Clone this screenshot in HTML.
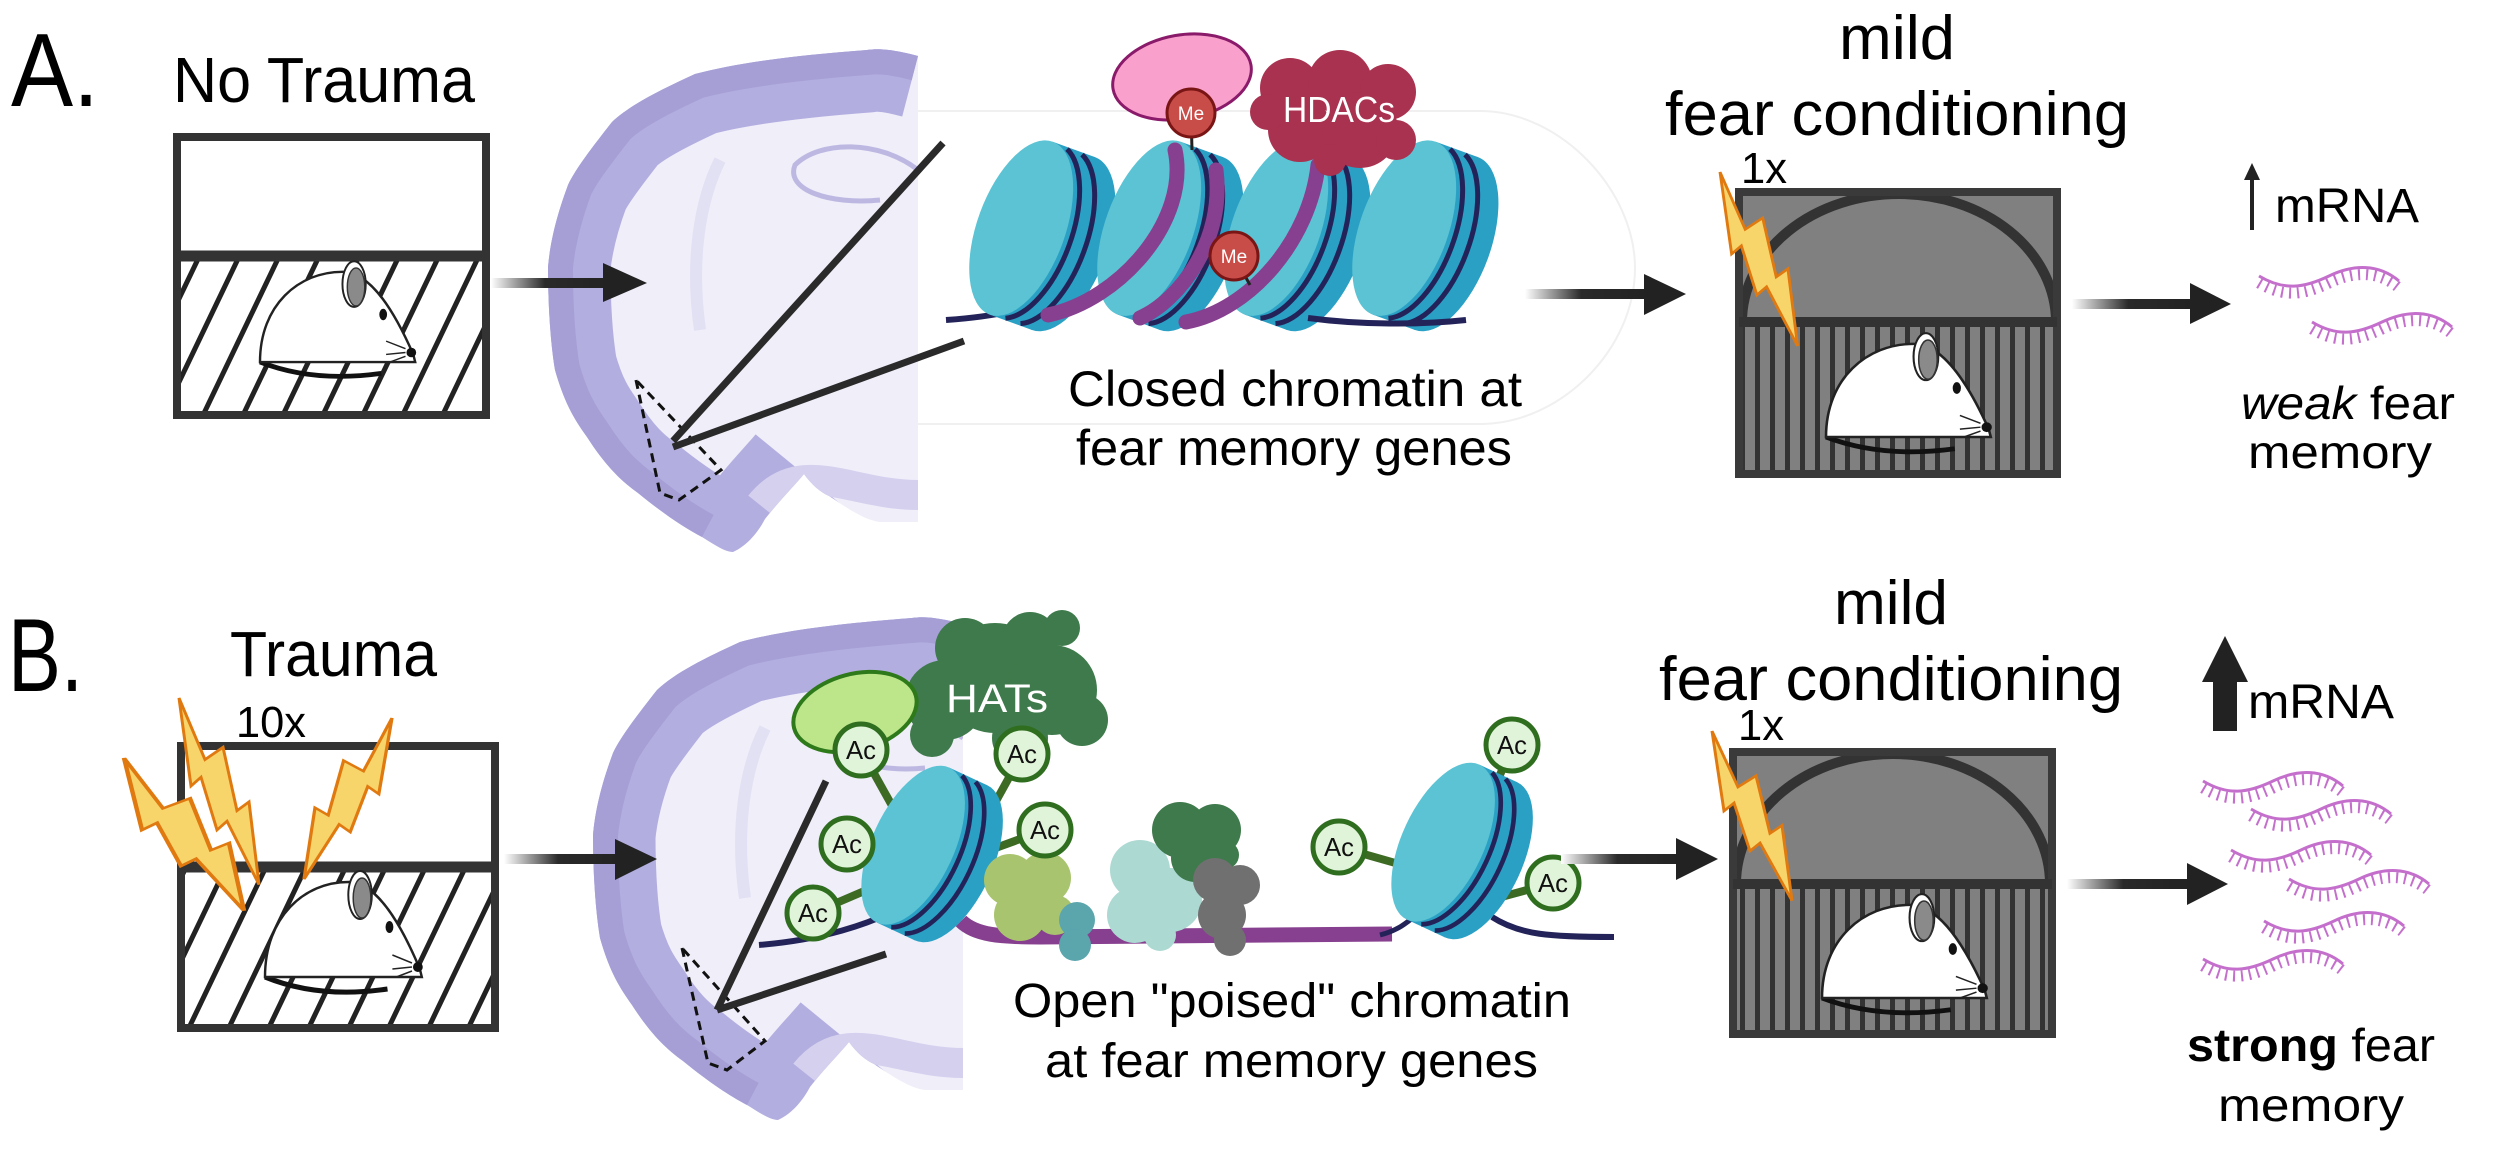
<!DOCTYPE html>
<html><head><meta charset="utf-8"><style>
html,body{margin:0;padding:0;background:#fff;}
svg{display:block;}
text{font-family:"Liberation Sans",sans-serif;fill:#000;}
</style></head><body>
<svg width="2500" height="1149" viewBox="0 0 2500 1149" xmlns="http://www.w3.org/2000/svg">
<defs>
 <pattern id="hatch" patternUnits="userSpaceOnUse" width="36" height="36" patternTransform="rotate(25.6)">
  <rect width="36" height="36" fill="#fff"/><rect x="0" y="0" width="5" height="36" fill="#222"/>
 </pattern>
 <pattern id="bars" patternUnits="userSpaceOnUse" width="15" height="20">
  <rect width="15" height="20" fill="#808080"/><rect x="0" y="0" width="5" height="20" fill="#333"/>
 </pattern>
 <linearGradient id="shaft" x1="0" x2="1" y1="0" y2="0">
  <stop offset="0" stop-color="#fff"/><stop offset="0.45" stop-color="#2a2a2a"/><stop offset="1" stop-color="#222"/>
 </linearGradient>
 <clipPath id="brainclip"><path d="M918,56 C895,50 880,48 867,50 C800,55 740,62 695,74 C660,90 630,105 612,122 C590,150 575,170 568,185 C555,220 550,245 548,267 C548,300 550,340 555,370 C565,405 575,420 587,437 C605,465 620,480 638,493 C665,515 685,528 702,537 C715,545 725,552 733,552 C748,545 758,532 765,519 C780,500 795,485 804,474 C812,485 820,492 829,496 C850,510 865,520 880,522 L918,522 Z"/></clipPath>
 <g id="brain">
  <path d="M918,56 C895,50 880,48 867,50 C800,55 740,62 695,74 C660,90 630,105 612,122 C590,150 575,170 568,185 C555,220 550,245 548,267 C548,300 550,340 555,370 C565,405 575,420 587,437 C605,465 620,480 638,493 C665,515 685,528 702,537 C715,545 725,552 733,552 C748,545 758,532 765,519 C780,500 795,485 804,474 C812,485 820,492 829,496 C850,510 865,520 880,522 L918,522 Z" fill="#efeef9"/>
  <g clip-path="url(#brainclip)">
   <path d="M918,56 C895,50 880,48 867,50 C800,55 740,62 695,74 C660,90 630,105 612,122 C590,150 575,170 568,185 C555,220 550,245 548,267 C548,300 550,340 555,370 C565,405 575,420 587,437 C605,465 620,480 638,493 C665,515 685,528 702,537 C715,545 725,552 733,552 C748,545 758,532 765,519 C780,500 795,485 804,474" fill="none" stroke="#b3aee0" stroke-width="125"/>
   <path d="M918,56 C895,50 880,48 867,50 C800,55 740,62 695,74 C660,90 630,105 612,122 C590,150 575,170 568,185 C555,220 550,245 548,267 C548,300 550,340 555,370 C565,405 575,420 587,437 C605,465 620,480 638,493 C665,515 685,528 702,537" fill="none" stroke="#a59fd6" stroke-width="50"/>
   <path d="M760,505 C800,455 850,495 918,495" fill="none" stroke="#d4d0ee" stroke-width="30"/>
   <path d="M918,170 C880,140 820,140 795,165 C785,190 830,205 880,200" fill="none" stroke="#bdb8e2" stroke-width="5"/>
   <path d="M720,160 C700,200 690,260 700,330" fill="none" stroke="#e2e0f3" stroke-width="12"/>
  </g>
 </g>
 <g id="nuc">
  <ellipse cx="25" cy="0" rx="44" ry="92" fill="#2aa0c5"/>
  <rect x="-20" y="-92" width="45" height="184" fill="#2aa0c5"/>
  <ellipse cx="-20" cy="0" rx="44" ry="92" fill="#5bc3d3"/>
  <path d="M-4,-90 A44 92 0 0 1 -4,90" fill="none" stroke="#23235a" stroke-width="5"/>
  <path d="M12,-90 A44 92 0 0 1 12,90" fill="none" stroke="#23235a" stroke-width="5"/>
 </g>
 <polygon id="bolt" points="0,0 26,70 44,56 58,128 70,118 80,212 48,140 38,150 22,90 12,100" fill="#f8d56b" stroke="#e07a10" stroke-width="3" stroke-linejoin="miter"/>
 <g id="mouse">
  <path d="M0,100 Q55,122 125,112" fill="none" stroke="#111" stroke-width="5"/>
  <path d="M0,100 C0,40 40,5 85,5 C115,5 140,50 158,92 L160,100 Z" fill="#fff" stroke="#222" stroke-width="2.5"/>
  <ellipse cx="97" cy="18" rx="12" ry="24" fill="#fff" stroke="#222" stroke-width="2"/>
  <ellipse cx="99" cy="21" rx="9" ry="20" fill="#8a8a8a" stroke="#333" stroke-width="1.5"/>
  <ellipse cx="127" cy="50" rx="4" ry="6" fill="#111"/>
  <circle cx="156" cy="90" r="5" fill="#111"/>
  <path d="M150,86 L130,78 M150,90 L130,92 M150,94 L134,100" stroke="#222" stroke-width="1.5"/>
 </g>
 <g id="rna">
  <path d="M0,0 C25,15 45,12 70,0 C95,-12 120,-12 140,5" fill="none" stroke="#c46fcc" stroke-width="3"/>
  <path d="M0,0 C25,15 45,12 70,0 C95,-12 120,-12 140,5" transform="translate(0,7)" fill="none" stroke="#c46fcc" stroke-width="11" stroke-dasharray="2 6"/>
 </g>
 <g id="ac">
  <circle r="26" fill="#e0f4d9" stroke="#2f6d1f" stroke-width="5"/>
  <text x="0" y="9" font-size="26" text-anchor="middle" textLength="30" lengthAdjust="spacingAndGlyphs" style="fill:#111">Ac</text>
 </g>
</defs>

<!-- ===== Row A ===== -->
<text x="11" y="106" font-size="104" textLength="88" lengthAdjust="spacingAndGlyphs">A.</text>
<text x="173" y="102" font-size="64" textLength="302" lengthAdjust="spacingAndGlyphs">No Trauma</text>
<rect x="177" y="256" width="309" height="159" fill="url(#hatch)"/>
<rect x="177" y="137" width="309" height="278" fill="none" stroke="#333" stroke-width="8"/>
<line x1="177" y1="256" x2="486" y2="256" stroke="#333" stroke-width="11"/>
<use href="#mouse" transform="translate(260,267) scale(0.97,0.95)"/>

<use href="#brain"/>
<!-- arrow A1 -->
<rect x="491" y="278" width="120" height="10" fill="url(#shaft)"/>
<polygon points="603,263 647,283 603,302" fill="#222"/>
<polyline points="636,380 660,493 679,500 721,470 636,380" fill="none" stroke="#111" stroke-width="3" stroke-dasharray="9 6"/>
<line x1="673" y1="441" x2="943" y2="143" stroke="#2a2a2a" stroke-width="7"/>
<line x1="673" y1="447" x2="964" y2="341" stroke="#2a2a2a" stroke-width="7"/>

<!-- chromatin A -->
<path d="M918,111 L1480,111 C1560,111 1635,190 1635,268 C1635,350 1560,424 1480,424 L918,424" fill="none" stroke="#f0f0f0" stroke-width="2"/>
<path d="M946,320 C975,318 995,315 1012,311" fill="none" stroke="#23235a" stroke-width="6"/>
<use href="#nuc" transform="translate(1040,235) rotate(20)"/>
<use href="#nuc" transform="translate(1168,235) rotate(20)"/>
<use href="#nuc" transform="translate(1295,235) rotate(20)"/>
<use href="#nuc" transform="translate(1423,235) rotate(20)"/>
<path d="M1308,318 C1360,325 1420,325 1466,320" fill="none" stroke="#23235a" stroke-width="6"/>
<path d="M1175,150 C1190,220 1120,300 1048,315" fill="none" stroke="#87408f" stroke-width="15" stroke-linecap="round"/>
<path d="M1216,170 C1225,240 1180,300 1140,318" fill="none" stroke="#87408f" stroke-width="15" stroke-linecap="round"/>
<path d="M1318,165 C1310,240 1250,310 1186,322" fill="none" stroke="#87408f" stroke-width="15" stroke-linecap="round"/>
<line x1="1191" y1="113" x2="1192" y2="150" stroke="#222" stroke-width="3"/>
<ellipse cx="1182" cy="77" rx="70" ry="42" transform="rotate(-10 1182 77)" fill="#f9a0cc" stroke="#8a1a6a" stroke-width="3"/>
<circle cx="1191" cy="113" r="24" fill="#c84c48" stroke="#7a1515" stroke-width="3"/>
<text x="1191" y="120" font-size="19" text-anchor="middle" style="fill:#fff">Me</text>
<g fill="#a8324f">
 <circle cx="1290" cy="88" r="30"/><circle cx="1340" cy="82" r="32"/><circle cx="1388" cy="92" r="28"/>
 <circle cx="1300" cy="130" r="32"/><circle cx="1360" cy="130" r="38"/><circle cx="1396" cy="140" r="20"/>
 <circle cx="1330" cy="160" r="16"/><circle cx="1268" cy="112" r="18"/>
</g>
<text x="1283" y="122" font-size="36" textLength="112" lengthAdjust="spacingAndGlyphs" style="fill:#fff">HDACs</text>
<line x1="1234" y1="256" x2="1250" y2="285" stroke="#222" stroke-width="3"/>
<circle cx="1234" cy="256" r="24" fill="#c84c48" stroke="#7a1515" stroke-width="3"/>
<text x="1234" y="263" font-size="19" text-anchor="middle" style="fill:#fff">Me</text>
<text x="1068" y="406" font-size="50" textLength="454" lengthAdjust="spacingAndGlyphs">Closed chromatin at</text>
<text x="1076" y="465" font-size="50" textLength="436" lengthAdjust="spacingAndGlyphs">fear memory genes</text>
<!-- arrow A2 -->
<rect x="1525" y="289" width="125" height="10" fill="url(#shaft)"/>
<polygon points="1644,274 1686,294 1644,315" fill="#222"/>

<text x="1839" y="59" font-size="62" textLength="116" lengthAdjust="spacingAndGlyphs">mild</text>
<text x="1665" y="135" font-size="62" textLength="464" lengthAdjust="spacingAndGlyphs">fear conditioning</text>
<text x="1741" y="183" font-size="44" textLength="46" lengthAdjust="spacingAndGlyphs">1x</text>
<rect x="1739" y="322" width="318" height="152" fill="url(#bars)"/>
<rect x="1739" y="192" width="318" height="130" fill="#808080"/>
<path d="M1742,322 A157 128 0 0 1 2056,322" fill="none" stroke="#333" stroke-width="10"/>
<rect x="1739" y="192" width="318" height="282" fill="none" stroke="#3a3a3a" stroke-width="8"/>
<line x1="1739" y1="322" x2="2057" y2="322" stroke="#333" stroke-width="10"/>
<use href="#mouse" transform="translate(1826,339) scale(1.03,0.98)"/>
<use href="#bolt" transform="translate(1720,172) scale(0.97,0.82)"/>
<!-- arrow A3 -->
<rect x="2072" y="299" width="125" height="10" fill="url(#shaft)"/>
<polygon points="2190,283 2231,304 2190,324" fill="#222"/>
<line x1="2252" y1="175" x2="2252" y2="230" stroke="#222" stroke-width="4"/>
<polygon points="2244,180 2260,180 2252,163" fill="#222"/>
<text x="2275" y="222" font-size="48" textLength="144" lengthAdjust="spacingAndGlyphs">mRNA</text>
<use href="#rna" transform="translate(2259,276)"/>
<use href="#rna" transform="translate(2312,322)"/>
<text x="2241" y="419" font-size="46" textLength="214" lengthAdjust="spacingAndGlyphs"><tspan font-style="italic">weak</tspan> fear</text>
<text x="2248" y="468" font-size="46" textLength="184" lengthAdjust="spacingAndGlyphs">memory</text>

<!-- ===== Row B ===== -->
<text x="8" y="691" font-size="104" textLength="75" lengthAdjust="spacingAndGlyphs">B.</text>
<text x="230" y="676" font-size="64" textLength="207" lengthAdjust="spacingAndGlyphs">Trauma</text>
<text x="236" y="737" font-size="44" textLength="70" lengthAdjust="spacingAndGlyphs">10x</text>
<rect x="181" y="867" width="314" height="161" fill="url(#hatch)"/>
<rect x="181" y="746" width="314" height="282" fill="none" stroke="#333" stroke-width="8"/>
<line x1="181" y1="867" x2="495" y2="867" stroke="#333" stroke-width="11"/>
<use href="#mouse" transform="translate(265,877) scale(0.98,1.0)"/>
<use href="#bolt" transform="translate(179,698) scale(1.0,0.88)"/>
<use href="#bolt" transform="translate(124,758) scale(1.5,0.72)"/>
<use href="#bolt" transform="translate(392,718) scale(-1.1,0.76)"/>

<use href="#brain" transform="translate(45,568)"/>
<!-- arrow B1 -->
<rect x="504" y="854" width="120" height="10" fill="url(#shaft)"/>
<polygon points="615,839 657,859 615,880" fill="#222"/>
<polyline points="682,948 708,1063 727,1070 765,1041 682,948" fill="none" stroke="#111" stroke-width="3" stroke-dasharray="9 6"/>
<line x1="717" y1="1010" x2="826" y2="781" stroke="#2a2a2a" stroke-width="7"/>
<line x1="717" y1="1010" x2="886" y2="954" stroke="#2a2a2a" stroke-width="7"/>

<!-- chromatin B -->
<g stroke="#3d6b24" stroke-width="8">
 <line x1="861" y1="750" x2="900" y2="820"/><line x1="847" y1="844" x2="900" y2="855"/>
 <line x1="813" y1="913" x2="890" y2="880"/><line x1="1022" y1="754" x2="980" y2="830"/>
 <line x1="1045" y1="830" x2="990" y2="850"/><line x1="1512" y1="745" x2="1490" y2="800"/>
 <line x1="1339" y1="847" x2="1420" y2="870"/><line x1="1553" y1="883" x2="1490" y2="900"/>
</g>
<path d="M759,945 C820,940 870,925 905,905" fill="none" stroke="#23235a" stroke-width="6"/>
<path d="M961,921 C975,935 1000,937 1040,937 L1392,934" fill="none" stroke="#87408f" stroke-width="15"/>
<path d="M1492,917 C1520,935 1550,937 1614,937" fill="none" stroke="#23235a" stroke-width="6"/>
<path d="M1380,935 C1400,930 1410,920 1420,912" fill="none" stroke="#23235a" stroke-width="5"/>
<use href="#nuc" transform="translate(930,853) rotate(25) scale(0.93)"/>
<use href="#nuc" transform="translate(1460,850) rotate(25) scale(0.93)"/>
<g fill="#3e7a4b">
 <circle cx="945" cy="700" r="40"/><circle cx="995" cy="678" r="55"/><circle cx="1052" cy="690" r="45"/>
 <circle cx="1082" cy="720" r="26"/><circle cx="1020" cy="738" r="28"/><circle cx="965" cy="648" r="30"/>
 <circle cx="1030" cy="640" r="28"/><circle cx="1062" cy="628" r="18"/><circle cx="932" cy="735" r="22"/>
</g>
<text x="946" y="712" font-size="40" textLength="102" lengthAdjust="spacingAndGlyphs" style="fill:#fff">HATs</text>
<ellipse cx="855" cy="712" rx="63" ry="38" transform="rotate(-15 855 712)" fill="#bde58a" stroke="#2e7a1a" stroke-width="4"/>
<g fill="#a9c46f"><circle cx="1010" cy="880" r="26"/><circle cx="1045" cy="878" r="26"/><circle cx="1020" cy="915" r="26"/><circle cx="1055" cy="915" r="20"/></g>
<g fill="#5ba5ad"><circle cx="1077" cy="920" r="18"/><circle cx="1075" cy="945" r="16"/></g>
<g fill="#acd9d2"><circle cx="1140" cy="870" r="30"/><circle cx="1170" cy="900" r="32"/><circle cx="1135" cy="915" r="28"/><circle cx="1160" cy="935" r="16"/></g>
<g fill="#3e7a4b"><circle cx="1180" cy="830" r="28"/><circle cx="1215" cy="830" r="26"/><circle cx="1195" cy="858" r="24"/><circle cx="1225" cy="855" r="14"/></g>
<g fill="#707070"><circle cx="1215" cy="880" r="22"/><circle cx="1240" cy="885" r="20"/><circle cx="1222" cy="915" r="24"/><circle cx="1230" cy="940" r="16"/></g>
<use href="#ac" transform="translate(861,750)"/>
<use href="#ac" transform="translate(847,844)"/>
<use href="#ac" transform="translate(813,913)"/>
<use href="#ac" transform="translate(1022,754)"/>
<use href="#ac" transform="translate(1045,830)"/>
<use href="#ac" transform="translate(1512,745)"/>
<use href="#ac" transform="translate(1339,847)"/>
<use href="#ac" transform="translate(1553,883)"/>
<text x="1013" y="1017" font-size="48" textLength="558" lengthAdjust="spacingAndGlyphs">Open "poised" chromatin</text>
<text x="1045" y="1077" font-size="48" textLength="493" lengthAdjust="spacingAndGlyphs">at fear memory genes</text>
<!-- arrow B2 -->
<rect x="1561" y="854" width="125" height="10" fill="url(#shaft)"/>
<polygon points="1676,838 1718,859 1676,880" fill="#222"/>

<text x="1834" y="624" font-size="62" textLength="114" lengthAdjust="spacingAndGlyphs">mild</text>
<text x="1659" y="700" font-size="62" textLength="464" lengthAdjust="spacingAndGlyphs">fear conditioning</text>
<text x="1738" y="740" font-size="44" textLength="46" lengthAdjust="spacingAndGlyphs">1x</text>
<rect x="1733" y="884" width="319" height="150" fill="url(#bars)"/>
<rect x="1733" y="752" width="319" height="132" fill="#808080"/>
<path d="M1736,884 A157 130 0 0 1 2050,884" fill="none" stroke="#333" stroke-width="10"/>
<rect x="1733" y="752" width="319" height="282" fill="none" stroke="#3a3a3a" stroke-width="8"/>
<line x1="1733" y1="884" x2="2052" y2="884" stroke="#333" stroke-width="10"/>
<use href="#mouse" transform="translate(1822,900) scale(1.03,0.98)"/>
<use href="#bolt" transform="translate(1712,731) scale(1.0,0.8)"/>
<!-- arrow B3 -->
<rect x="2067" y="879" width="125" height="10" fill="url(#shaft)"/>
<polygon points="2187,863 2228,884 2187,905" fill="#222"/>
<rect x="2213" y="678" width="24" height="53" fill="#222"/>
<polygon points="2202,682 2248,682 2225,636" fill="#222"/>
<text x="2248" y="718" font-size="48" textLength="146" lengthAdjust="spacingAndGlyphs">mRNA</text>
<use href="#rna" transform="translate(2203,781)"/>
<use href="#rna" transform="translate(2251,809)"/>
<use href="#rna" transform="translate(2231,850)"/>
<use href="#rna" transform="translate(2289,879)"/>
<use href="#rna" transform="translate(2264,921)"/>
<use href="#rna" transform="translate(2203,959)"/>
<text x="2187" y="1061" font-size="46" textLength="248" lengthAdjust="spacingAndGlyphs"><tspan font-weight="bold">strong</tspan> fear</text>
<text x="2218" y="1121" font-size="46" textLength="186" lengthAdjust="spacingAndGlyphs">memory</text>
</svg>
</body></html>
